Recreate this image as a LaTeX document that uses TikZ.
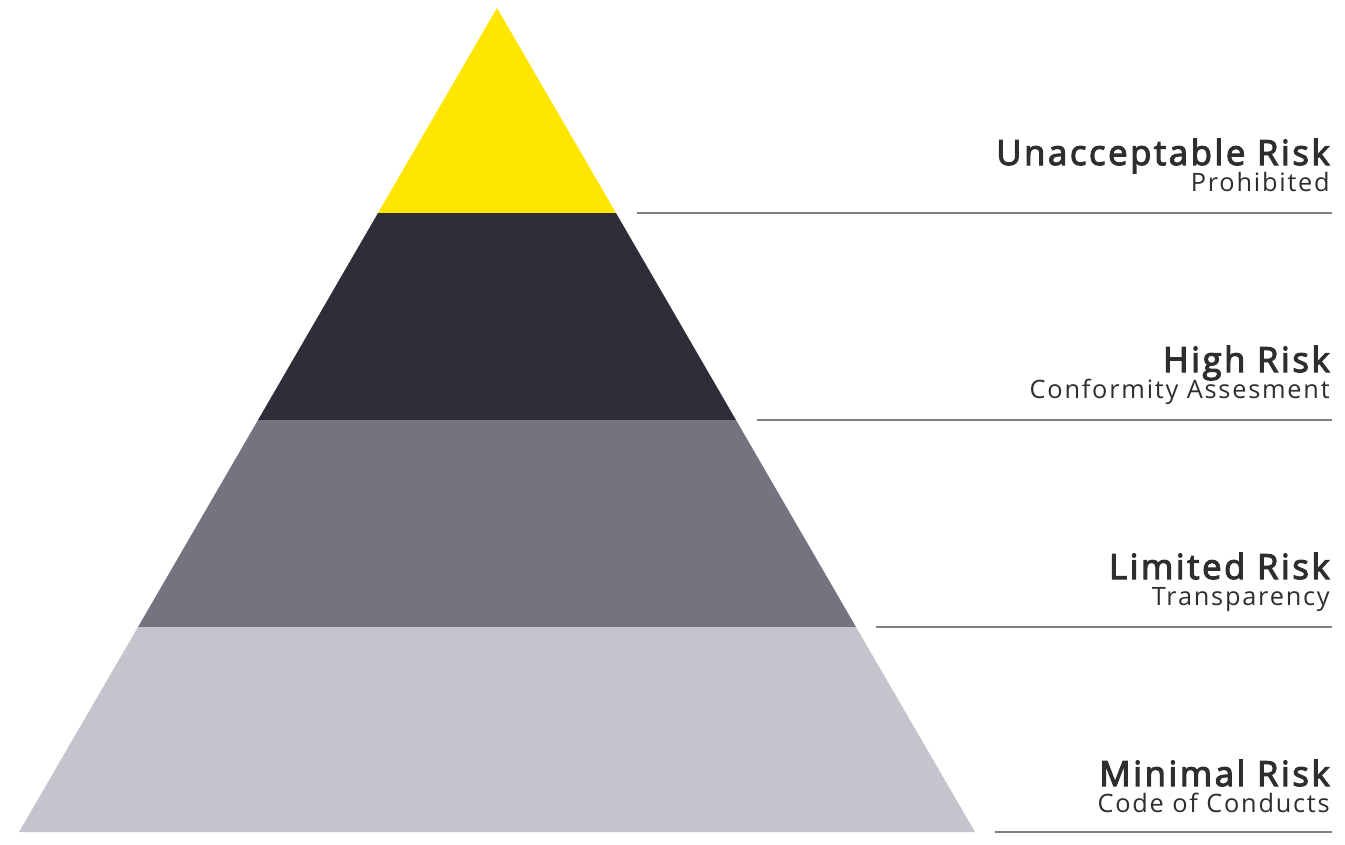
\documentclass[tikz,border=0pt]{standalone}
\usepackage{fontspec}
\setmainfont{Open Sans}
\newfontfamily\titlefont[LetterSpace=7.5]{Open Sans}
\newfontfamily\subfont[LetterSpace=7]{Open Sans}
\newcommand\heavytext[1]{\special{pdf:literal direct 2 Tr 0.85 w}#1\special{pdf:literal direct 0 Tr 0.4 w}}
\definecolor{eyyellow}{HTML}{FFE600}
\definecolor{eydark}{HTML}{2E2E38}
\definecolor{eymid}{HTML}{747480}
\definecolor{eylight}{HTML}{C4C4CD}
\definecolor{txt}{HTML}{2E2E2E}
\definecolor{rule}{HTML}{7F7F7F}
\begin{document}
\begin{tikzpicture}[x=0.75pt,y=-0.75pt,
  title/.style={anchor=base east,inner sep=0pt,text=txt,font=\titlefont\fontsize{26}{30}\selectfont},
  sub/.style={anchor=base east,inner sep=0pt,text=txt,font=\subfont\fontsize{19}{22}\selectfont},
  sep/.style={draw=rule,line width=1.5pt}]
\useasboundingbox (0,0) rectangle (1345,844);
% pyramid bands
\fill[eyyellow] (497,8) -- (616,213) -- (378,213) -- cycle;
\fill[eydark] (378,213) -- (616,213) -- (736,420) -- (258,420) -- cycle;
\fill[eymid] (258,420) -- (736,420) -- (856,627) -- (138,627) -- cycle;
\fill[eylight] (138,627) -- (856,627) -- (975,832) -- (19,832) -- cycle;
% separator lines
\coordinate (l1a) at (637,213); \coordinate (l1b) at (1332,213);
\coordinate (l2a) at (757,420); \coordinate (l2b) at (1332,420);
\coordinate (l3a) at (876,627); \coordinate (l3b) at (1332,627);
\coordinate (l4a) at (995,832); \coordinate (l4b) at (1332,832);
\draw[sep] (l1a) -- (l1b);
\draw[sep] (l2a) -- (l2b);
\draw[sep] (l3a) -- (l3b);
\draw[sep] (l4a) -- (l4b);
% labels
\node[sub] (s1) at (1330,191) {Prohibited};
\node[sub] (s2) at (1330,398) {Conformity Assesment};
\node[sub] (s3) at (1330,605) {Transparency};
\node[sub] (s4) at (1330,812) {Code of Conducts};
\node[title] (t1) at (1330,165) {\heavytext{Unacceptable Risk}};
\node[title] (t2) at (1330,372) {\heavytext{High Risk}};
\node[title] (t3) at (1330,579) {\heavytext{Limited Risk}};
\node[title] (t4) at (1330,786) {\heavytext{Minimal Risk}};
\end{tikzpicture}
\end{document}
